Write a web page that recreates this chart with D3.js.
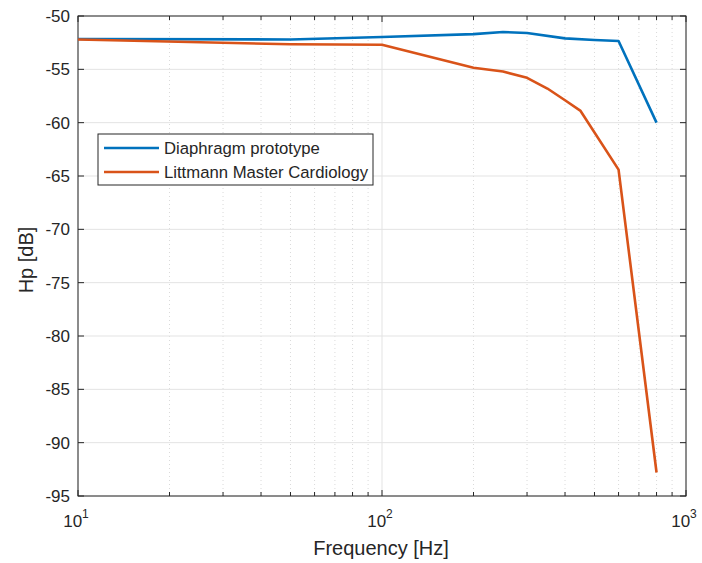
<!DOCTYPE html>
<html>
<head>
<meta charset="utf-8">
<script src="https://cdn.jsdelivr.net/npm/d3@7"></script>
<style>
  body { margin: 0; background: #fff; }
  text { font-family: "Liberation Sans", Arial, sans-serif; fill: #262626; }
</style>
</head>
<body>
<svg id="chart" width="702" height="563"></svg>
<script>
// data
var protoFreq = [10, 50, 100, 200, 250, 300, 400, 500, 600, 800];
var protoHp = [-52.15, -52.2, -51.97, -51.7, -51.5, -51.6, -52.1, -52.25, -52.35, -60.0];
var littFreq = [10, 50, 100, 200, 250, 300, 350, 400, 450, 600, 800];
var littHp = [-52.2, -52.65, -52.7, -54.85, -55.2, -55.8, -56.8, -57.9, -58.9, -64.4, -92.8];
var seriesNames = ["Diaphragm prototype", "Littmann Master Cardiology"];
var yTicks = [-95, -90, -85, -80, -75, -70, -65, -60, -55, -50];
var xDecades = [10, 100, 1000];

var svg = d3.select("#chart");
var padL = 78, padR = 686, padT = 16, padB = 496;

var x = d3.scaleLog().domain([10, 1000]).range([padL, padR]);
var y = d3.scaleLinear().domain([-95, -50]).range([padB, padT]);

// minor x positions 20..90, 200..900
var minorX = [];
[10, 100].forEach(function(d) {
    for (var k = 2; k <= 9; k++) minorX.push(d * k);
});

var grid = svg.append("g");
grid.selectAll(".minor").data(minorX).enter().append("line")
    .attr("x1", function(d) { return x(d); }).attr("x2", function(d) { return x(d); })
    .attr("y1", padT).attr("y2", padB)
    .attr("stroke", "#d0d0d0").attr("stroke-width", 0.8).attr("stroke-dasharray", "1,3");
grid.selectAll(".majx").data(xDecades).enter().append("line")
    .attr("x1", function(d) { return x(d); }).attr("x2", function(d) { return x(d); })
    .attr("y1", padT).attr("y2", padB)
    .attr("stroke", "#e3e3e3").attr("stroke-width", 1);
grid.selectAll(".majy").data(yTicks).enter().append("line")
    .attr("x1", padL).attr("x2", padR)
    .attr("y1", function(d) { return y(d); }).attr("y2", function(d) { return y(d); })
    .attr("stroke", "#e3e3e3").attr("stroke-width", 1);

// ticks (inside, on all four sides)
var ticks = svg.append("g").attr("stroke", "#262626").attr("stroke-width", 1);
xDecades.concat(minorX).forEach(function(d) {
    var len = xDecades.indexOf(d) >= 0 ? 6 : 4;
    ticks.append("line").attr("x1", x(d)).attr("x2", x(d)).attr("y1", padB).attr("y2", padB - len);
    ticks.append("line").attr("x1", x(d)).attr("x2", x(d)).attr("y1", padT).attr("y2", padT + len);
});
yTicks.forEach(function(d) {
    ticks.append("line").attr("x1", padL).attr("x2", padL + 6).attr("y1", y(d)).attr("y2", y(d));
    ticks.append("line").attr("x1", padR).attr("x2", padR - 6).attr("y1", y(d)).attr("y2", y(d));
});

svg.append("rect").attr("x", padL).attr("y", padT)
    .attr("width", padR - padL).attr("height", padB - padT)
    .attr("fill", "none").attr("stroke", "#262626").attr("stroke-width", 1);

// tick labels
svg.selectAll(".ylab").data(yTicks).enter().append("text")
    .attr("x", padL - 8).attr("y", function(d) { return y(d) + 6; })
    .attr("text-anchor", "end").style("font-size", "17px")
    .text(function(d) { return d; });

xDecades.forEach(function(d) {
    var t = svg.append("text").attr("x", x(d) - 2).attr("y", padB + 31)
        .attr("text-anchor", "middle").style("font-size", "17px");
    t.append("tspan").text("10");
    t.append("tspan").attr("dy", -9).style("font-size", "12px").text(Math.round(Math.log10(d)));
});

svg.append("text").attr("x", (padL + padR) / 2 - 1).attr("y", 555)
    .attr("text-anchor", "middle").style("font-size", "20px").text("Frequency [Hz]");
svg.append("text").attr("transform", "translate(33," + ((padT + padB) / 2 + 4) + ") rotate(-90)")
    .attr("text-anchor", "middle").style("font-size", "20px").text("Hp [dB]");

// lines
var line = d3.line().x(function(d) { return x(d[0]); }).y(function(d) { return y(d[1]); });
var colors = ["#0072BD", "#D95319"];
var series = [d3.zip(protoFreq, protoHp), d3.zip(littFreq, littHp)];
svg.selectAll(".series").data(series).enter().append("path")
    .attr("d", line).attr("fill", "none")
    .attr("stroke", function(d, i) { return colors[i]; })
    .attr("stroke-width", 2.6).attr("stroke-linejoin", "round");

// legend
var lg = svg.append("g");
lg.append("rect").attr("x", 98).attr("y", 134).attr("width", 275).attr("height", 51)
    .attr("fill", "#fff").attr("stroke", "#262626").attr("stroke-width", 1);
seriesNames.forEach(function(name, i) {
    var ly = 148 + i * 24;
    lg.append("line").attr("x1", 104).attr("x2", 159).attr("y1", ly).attr("y2", ly)
        .attr("stroke", colors[i]).attr("stroke-width", 2.6);
    lg.append("text").attr("x", 164).attr("y", ly + 6).style("font-size", "16.7px").text(name);
});
</script>
</body>
</html>
